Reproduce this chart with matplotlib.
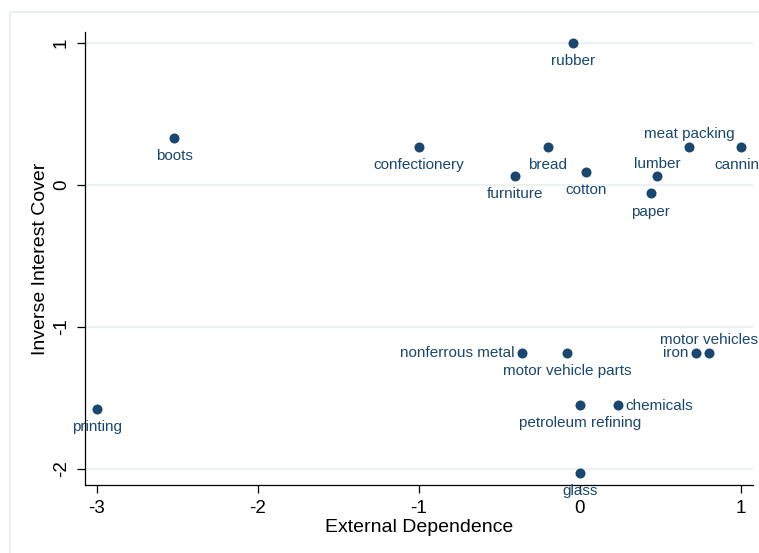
import matplotlib
matplotlib.use("Agg")
import matplotlib.pyplot as plt
from matplotlib.patches import Rectangle

plt.rcParams['font.family'] = ['Liberation Sans', 'DejaVu Sans']

# industries: external dependence vs inverse interest cover
industry = ["rubber", "boots", "confectionery", "bread", "furniture", "cotton",
            "lumber", "paper", "meat packing", "canning", "nonferrous metal",
            "motor vehicle parts", "iron", "motor vehicles", "petroleum refining",
            "chemicals", "glass", "printing"]
ext_dep = [-0.04, -2.52, -1.00, -0.20, -0.40, 0.04, 0.48, 0.44, 0.68, 1.00,
           -0.36, -0.08, 0.72, 0.80, 0.00, 0.24, 0.00, -3.00]
inv_cover = [1.00, 0.33, 0.27, 0.27, 0.06, 0.09, 0.06, -0.06, 0.27, 0.27,
             -1.18, -1.18, -1.18, -1.18, -1.55, -1.55, -2.03, -1.58]
# clock position of each marker label (Stata style)
label_pos = [6, 6, 6, 6, 6, 6, 12, 6, 12, 6, 9, 6, 9, 12, 6, 3, 6, 6]

xticks = [-3, -2, -1, 0, 1]
yticks = [-2, -1, 0, 1]

navy = "#1a476f"
grid_col = "#eaf2f3"

fig = plt.figure(figsize=(7.59, 5.53), dpi=100)
fig.patches.append(Rectangle((9.5 / 759, -0.1), 1.2, 1.1 - 12 / 553,
                             transform=fig.transFigure, fill=False,
                             edgecolor="#e3ecee", linewidth=1.2))

ax = fig.add_axes([85.3 / 759, 1 - 485 / 553, (752.7 - 85.3) / 759, (485 - 32) / 553])
ax.set_xlim(-3.071, 1.0745)
ax.set_ylim(-2.113, 1.077)

for y in yticks:
    ax.axhline(y, color=grid_col, linewidth=1.5, zorder=0)

ax.scatter(ext_dep, inv_cover, s=52, color=navy, zorder=3, linewidths=0)

offsets = {6: ((0, -13), "center", "center"),
           12: ((0, 9), "center", "center"),
           3: ((5, -1), "left", "center"),
           9: ((-5, 0), "right", "center")}
for name, x, y, p in zip(industry, ext_dep, inv_cover, label_pos):
    off, ha, va = offsets[p]
    ax.annotate(name, (x, y), xytext=off, textcoords="offset points",
                ha=ha, va=va, fontsize=11, color=navy, annotation_clip=False)

for s in ["top", "right"]:
    ax.spines[s].set_visible(False)
for s in ["left", "bottom"]:
    ax.spines[s].set_linewidth(0.9)

ax.set_xticks(xticks)
ax.set_yticks(yticks)
ax.set_xticklabels([str(t) for t in xticks])
ax.set_yticklabels([str(t) for t in yticks], rotation=90, va="center")
ax.tick_params(direction="out", length=6, width=0.9, labelsize=13.5, pad=5)

ax.set_xlabel("External Dependence", fontsize=14, labelpad=1)
ax.set_ylabel("Inverse Interest Cover", fontsize=14, labelpad=3)

fig.savefig("out.png", dpi=100)
